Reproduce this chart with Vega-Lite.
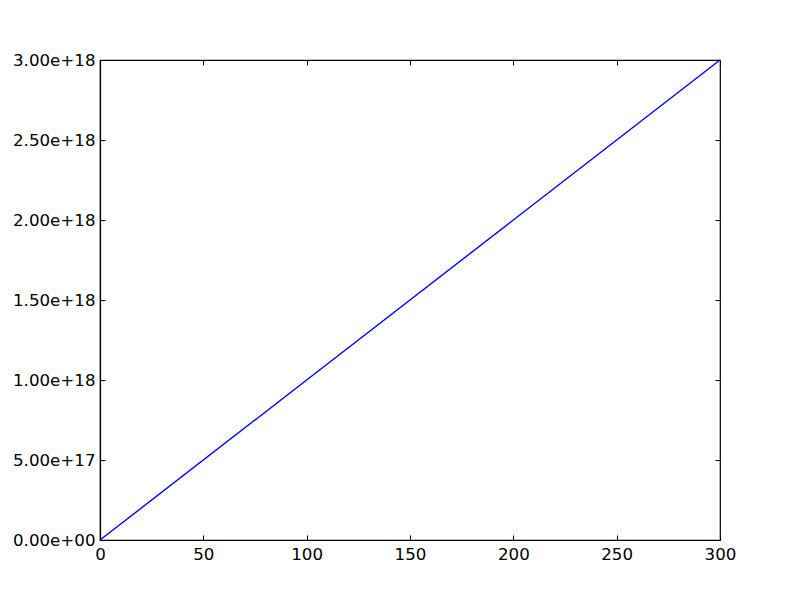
{
  "$schema": "https://vega.github.io/schema/vega-lite/v6.json",
  "autosize": {"type": "none"},
  "padding": {"left": 100, "top": 60, "right": 80, "bottom": 60},
  "width": 620,
  "height": 480,
  "background": "white",
  "config": {
    "view": {"stroke": "black", "strokeWidth": 1.2},
    "axis": {
      "labelFont": "DejaVu Sans",
      "labelFontSize": 16.67,
      "labelColor": "black",
      "domainColor": "black",
      "domainWidth": 1.2,
      "tickColor": "black",
      "tickWidth": 1,
      "tickSize": -5,
      "grid": false,
      "title": null,
      "labelFlush": false,
      "labelOverlap": false
    }
  },
  "data": {
    "values": [
      {"x": 0, "y": 0},
      {"x": 100, "y": 1e18},
      {"x": 200, "y": 2e18},
      {"x": 300, "y": 3e18}
    ]
  },
  "layer": [
    {
      "mark": {"type": "line", "color": "#0000ff", "strokeWidth": 1.4},
      "encoding": {
        "x": {
          "field": "x", "type": "quantitative",
          "scale": {"domain": [0, 300], "nice": false},
          "axis": {"orient": "bottom", "values": [0, 50, 100, 150, 200, 250, 300], "labelPadding": 11}
        },
        "y": {
          "field": "y", "type": "quantitative",
          "scale": {"domain": [0, 3e18], "nice": false},
          "axis": {
            "orient": "left",
            "values": [0, 5e17, 1e18, 1.5e18, 2e18, 2.5e18, 3e18],
            "labelExpr": "datum.value == 0 ? '0.00e+00' : format(datum.value, '.2e')",
            "labelPadding": 10,
            "labelBaseline": "middle"
          }
        }
      }
    },
    {
      "mark": {"type": "line", "opacity": 0},
      "encoding": {
        "x": {
          "field": "x", "type": "quantitative",
          "scale": {"domain": [0, 300], "nice": false},
          "axis": {"orient": "top", "values": [0, 50, 100, 150, 200, 250, 300], "labels": false, "domain": false}
        },
        "y": {
          "field": "y", "type": "quantitative",
          "scale": {"domain": [0, 3e18], "nice": false},
          "axis": {"orient": "right", "values": [0, 5e17, 1e18, 1.5e18, 2e18, 2.5e18, 3e18], "labels": false, "domain": false}
        }
      }
    }
  ],
  "resolve": {"scale": {"x": "independent", "y": "independent"}, "axis": {"x": "independent", "y": "independent"}}
}
